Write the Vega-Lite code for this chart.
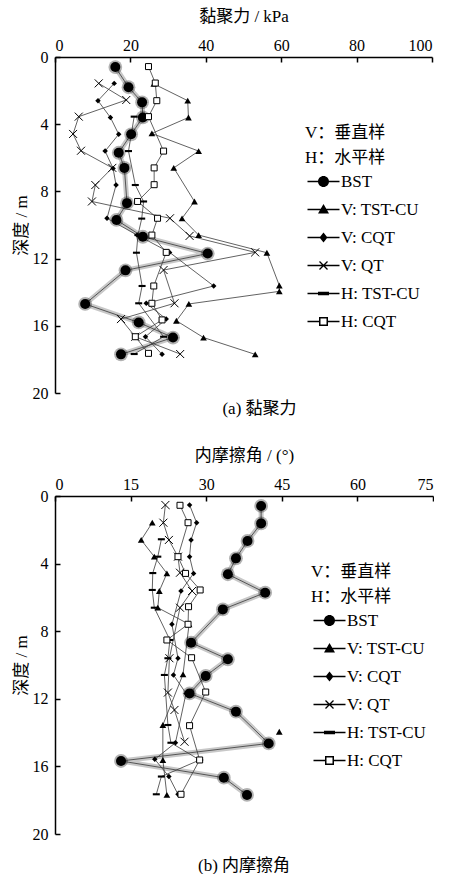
{
  "$schema": "https://vega.github.io/schema/vega-lite/v6.json",
  "padding": {"left": 12, "top": 7, "right": 0, "bottom": 0},
  "background": "white",
  "datasets": {
    "cohesion": [
      {"s": "BST", "d": 0.6, "v": 16.0}, {"s": "BST", "d": 1.8, "v": 19.5}, {"s": "BST", "d": 2.7, "v": 23.1}, {"s": "BST", "d": 3.6, "v": 23.3},
      {"s": "BST", "d": 4.6, "v": 20.2}, {"s": "BST", "d": 5.7, "v": 16.9}, {"s": "BST", "d": 6.6, "v": 18.4}, {"s": "BST", "d": 8.7, "v": 19.1},
      {"s": "BST", "d": 9.7, "v": 16.3}, {"s": "BST", "d": 10.7, "v": 23.3}, {"s": "BST", "d": 11.7, "v": 40.5}, {"s": "BST", "d": 12.7, "v": 18.7},
      {"s": "BST", "d": 14.7, "v": 8.0}, {"s": "BST", "d": 15.8, "v": 22.2}, {"s": "BST", "d": 16.7, "v": 31.3}, {"s": "BST", "d": 17.7, "v": 17.5},
      {"s": "V: TST-CU", "d": 1.6, "v": 26.2}, {"s": "V: TST-CU", "d": 2.6, "v": 35.2}, {"s": "V: TST-CU", "d": 3.6, "v": 35.4}, {"s": "V: TST-CU", "d": 4.55, "v": 25.7},
      {"s": "V: TST-CU", "d": 5.6, "v": 38.1}, {"s": "V: TST-CU", "d": 6.6, "v": 31.5}, {"s": "V: TST-CU", "d": 8.6, "v": 37.0}, {"s": "V: TST-CU", "d": 9.6, "v": 33.7},
      {"s": "V: TST-CU", "d": 10.6, "v": 38.1}, {"s": "V: TST-CU", "d": 11.65, "v": 56.2}, {"s": "V: TST-CU", "d": 13.6, "v": 59.5}, {"s": "V: TST-CU", "d": 13.95, "v": 59.5},
      {"s": "V: TST-CU", "d": 14.7, "v": 35.5}, {"s": "V: TST-CU", "d": 15.7, "v": 32.2}, {"s": "V: TST-CU", "d": 16.7, "v": 39.4}, {"s": "V: TST-CU", "d": 17.7, "v": 53.1},
      {"s": "V: CQT", "d": 1.57, "v": 15.7}, {"s": "V: CQT", "d": 2.6, "v": 11.4}, {"s": "V: CQT", "d": 3.6, "v": 14.7}, {"s": "V: CQT", "d": 4.6, "v": 16.9},
      {"s": "V: CQT", "d": 5.6, "v": 13.3}, {"s": "V: CQT", "d": 6.63, "v": 15.4}, {"s": "V: CQT", "d": 7.62, "v": 16.2}, {"s": "V: CQT", "d": 9.6, "v": 13.8},
      {"s": "V: CQT", "d": 10.6, "v": 21.8}, {"s": "V: CQT", "d": 11.63, "v": 30.4}, {"s": "V: CQT", "d": 13.63, "v": 42.1}, {"s": "V: CQT", "d": 14.66, "v": 24.2},
      {"s": "V: CQT", "d": 15.6, "v": 29.5}, {"s": "V: CQT", "d": 16.65, "v": 24.0}, {"s": "V: CQT", "d": 17.7, "v": 28.4},
      {"s": "V: QT", "d": 1.57, "v": 11.6}, {"s": "V: QT", "d": 2.56, "v": 18.9}, {"s": "V: QT", "d": 3.55, "v": 6.3}, {"s": "V: QT", "d": 4.58, "v": 4.8},
      {"s": "V: QT", "d": 5.58, "v": 6.9}, {"s": "V: QT", "d": 6.6, "v": 15.2}, {"s": "V: QT", "d": 7.62, "v": 10.7}, {"s": "V: QT", "d": 8.6, "v": 9.8},
      {"s": "V: QT", "d": 9.6, "v": 30.5}, {"s": "V: QT", "d": 10.65, "v": 35.7}, {"s": "V: QT", "d": 11.63, "v": 53.1}, {"s": "V: QT", "d": 12.68, "v": 28.8},
      {"s": "V: QT", "d": 14.66, "v": 31.7}, {"s": "V: QT", "d": 15.6, "v": 17.5}, {"s": "V: QT", "d": 16.65, "v": 21.3}, {"s": "V: QT", "d": 17.68, "v": 33.2},
      {"s": "H: TST-CU", "d": 3.55, "v": 21.0}, {"s": "H: TST-CU", "d": 5.6, "v": 19.5}, {"s": "H: TST-CU", "d": 7.62, "v": 21.3}, {"s": "H: TST-CU", "d": 8.6, "v": 23.5},
      {"s": "H: TST-CU", "d": 9.62, "v": 23.0}, {"s": "H: TST-CU", "d": 10.6, "v": 22.0}, {"s": "H: TST-CU", "d": 11.65, "v": 21.6}, {"s": "H: TST-CU", "d": 13.63, "v": 23.1},
      {"s": "H: TST-CU", "d": 14.66, "v": 22.2}, {"s": "H: TST-CU", "d": 16.65, "v": 28.8}, {"s": "H: TST-CU", "d": 17.68, "v": 21.0},
      {"s": "H: CQT", "d": 0.57, "v": 24.8}, {"s": "H: CQT", "d": 1.55, "v": 26.6}, {"s": "H: CQT", "d": 2.6, "v": 27.0}, {"s": "H: CQT", "d": 3.55, "v": 24.8},
      {"s": "H: CQT", "d": 5.6, "v": 28.8}, {"s": "H: CQT", "d": 6.6, "v": 26.3}, {"s": "H: CQT", "d": 7.6, "v": 26.3}, {"s": "H: CQT", "d": 8.6, "v": 21.9},
      {"s": "H: CQT", "d": 9.6, "v": 27.2}, {"s": "H: CQT", "d": 10.6, "v": 25.7}, {"s": "H: CQT", "d": 11.63, "v": 29.5}, {"s": "H: CQT", "d": 13.63, "v": 26.2},
      {"s": "H: CQT", "d": 14.66, "v": 25.7}, {"s": "H: CQT", "d": 15.65, "v": 28.4}, {"s": "H: CQT", "d": 16.65, "v": 21.3}, {"s": "H: CQT", "d": 17.64, "v": 24.8}
    ],
    "friction": [
      {"s": "BST", "d": 0.59, "v": 40.9}, {"s": "BST", "d": 1.62, "v": 40.9}, {"s": "BST", "d": 2.66, "v": 38.2}, {"s": "BST", "d": 3.69, "v": 35.9},
      {"s": "BST", "d": 4.63, "v": 34.3}, {"s": "BST", "d": 5.72, "v": 41.7}, {"s": "BST", "d": 6.71, "v": 33.3}, {"s": "BST", "d": 8.68, "v": 27.0},
      {"s": "BST", "d": 9.66, "v": 34.3}, {"s": "BST", "d": 10.65, "v": 29.9}, {"s": "BST", "d": 11.68, "v": 26.7}, {"s": "BST", "d": 12.76, "v": 35.9},
      {"s": "BST", "d": 14.64, "v": 42.4}, {"s": "BST", "d": 15.68, "v": 13.1}, {"s": "BST", "d": 16.67, "v": 33.5}, {"s": "BST", "d": 17.69, "v": 38.1},
      {"s": "V: TST-CU", "d": 1.58, "v": 19.3}, {"s": "V: TST-CU", "d": 2.6, "v": 17.1}, {"s": "V: TST-CU", "d": 3.59, "v": 19.7}, {"s": "V: TST-CU", "d": 4.58, "v": 22.2},
      {"s": "V: TST-CU", "d": 5.62, "v": 20.7}, {"s": "V: TST-CU", "d": 6.61, "v": 20.4}, {"s": "V: TST-CU", "d": 7.59, "v": 26.6}, {"s": "V: TST-CU", "d": 10.55, "v": 25.4},
      {"s": "V: TST-CU", "d": 13.55, "v": 21.4}, {"s": "V: TST-CU", "d": 13.95, "v": 44.5}, {"s": "V: TST-CU", "d": 15.62, "v": 21.4}, {"s": "V: TST-CU", "d": 17.69, "v": 22.2},
      {"s": "V: CQT", "d": 0.53, "v": 26.7}, {"s": "V: CQT", "d": 1.58, "v": 28.1}, {"s": "V: CQT", "d": 2.6, "v": 27.0}, {"s": "V: CQT", "d": 3.59, "v": 26.7},
      {"s": "V: CQT", "d": 4.58, "v": 27.5}, {"s": "V: CQT", "d": 5.62, "v": 25.0}, {"s": "V: CQT", "d": 7.59, "v": 23.2}, {"s": "V: CQT", "d": 9.6, "v": 24.4},
      {"s": "V: CQT", "d": 10.59, "v": 23.5}, {"s": "V: CQT", "d": 11.68, "v": 26.0}, {"s": "V: CQT", "d": 14.6, "v": 23.9}, {"s": "V: CQT", "d": 15.58, "v": 19.8},
      {"s": "V: CQT", "d": 16.6, "v": 22.6}, {"s": "V: CQT", "d": 17.65, "v": 24.4},
      {"s": "V: QT", "d": 0.53, "v": 21.9}, {"s": "V: QT", "d": 1.58, "v": 21.5}, {"s": "V: QT", "d": 2.6, "v": 22.6}, {"s": "V: QT", "d": 3.59, "v": 24.4},
      {"s": "V: QT", "d": 4.54, "v": 24.8}, {"s": "V: QT", "d": 5.62, "v": 27.2}, {"s": "V: QT", "d": 6.61, "v": 24.8}, {"s": "V: QT", "d": 9.6, "v": 22.7},
      {"s": "V: QT", "d": 11.63, "v": 22.4}, {"s": "V: QT", "d": 12.66, "v": 23.7}, {"s": "V: QT", "d": 14.54, "v": 25.7},
      {"s": "H: TST-CU", "d": 2.56, "v": 21.1}, {"s": "H: TST-CU", "d": 3.59, "v": 20.4}, {"s": "H: TST-CU", "d": 4.56, "v": 19.4}, {"s": "H: TST-CU", "d": 5.56, "v": 19.3},
      {"s": "H: TST-CU", "d": 6.61, "v": 19.7}, {"s": "H: TST-CU", "d": 8.52, "v": 22.8}, {"s": "H: TST-CU", "d": 9.6, "v": 22.4}, {"s": "H: TST-CU", "d": 10.59, "v": 21.7},
      {"s": "H: TST-CU", "d": 13.55, "v": 22.4}, {"s": "H: TST-CU", "d": 14.6, "v": 23.0}, {"s": "H: TST-CU", "d": 15.62, "v": 28.7}, {"s": "H: TST-CU", "d": 16.6, "v": 21.1},
      {"s": "H: TST-CU", "d": 17.65, "v": 20.1},
      {"s": "H: CQT", "d": 0.55, "v": 24.8}, {"s": "H: CQT", "d": 1.58, "v": 26.4}, {"s": "H: CQT", "d": 3.59, "v": 24.4}, {"s": "H: CQT", "d": 4.58, "v": 25.9},
      {"s": "H: CQT", "d": 5.56, "v": 28.8}, {"s": "H: CQT", "d": 6.55, "v": 26.5}, {"s": "H: CQT", "d": 7.59, "v": 26.4}, {"s": "H: CQT", "d": 8.52, "v": 22.2},
      {"s": "H: CQT", "d": 9.57, "v": 27.1}, {"s": "H: CQT", "d": 11.6, "v": 29.9}, {"s": "H: CQT", "d": 13.59, "v": 26.7}, {"s": "H: CQT", "d": 15.62, "v": 28.7},
      {"s": "H: CQT", "d": 17.65, "v": 25.0}
    ]
  },
  "vconcat": [
    {
      "width": 377,
      "height": 336,
      "data": {"name": "cohesion"},
      "title": {"text": "(a) 黏聚力", "orient": "bottom", "anchor": "middle", "dx": 16, "offset": 0},
      "encoding": {
        "x": {"field": "v", "type": "quantitative", "scale": {"domain": [0, 100], "nice": false},
              "axis": {"orient": "top", "title": "黏聚力 / kPa", "values": [0, 20, 40, 60, 80, 100]}},
        "y": {"field": "d", "type": "quantitative", "scale": {"domain": [0, 20], "reverse": true, "nice": false},
              "axis": {"title": "深度 / m", "values": [0, 4, 8, 12, 16, 20]}},
        "order": {"field": "d", "type": "quantitative"}
      },
      "layer": [
        {"transform": [{"filter": "datum.s == 'BST'"}], "mark": {"type": "line", "color": "#c8c8c8", "strokeWidth": 5}},
        {"transform": [{"filter": "datum.s == 'BST'"}], "mark": {"type": "line", "color": "#555555", "strokeWidth": 1}},
        {"transform": [{"filter": "datum.s != 'BST'"}], "mark": {"type": "line", "color": "#3a3a3a", "strokeWidth": 0.8},
         "encoding": {"detail": {"field": "s", "type": "nominal"}}},
        {"transform": [{"filter": "datum.s == 'BST'"}], "mark": {"type": "circle", "color": "black", "size": 190, "opacity": 0.3}},
        {"transform": [{"filter": "datum.s == 'BST'"}], "mark": {"type": "point", "shape": "circle", "filled": true, "color": "black", "size": 100, "opacity": 1}},
        {"transform": [{"filter": "datum.s == 'V: TST-CU'"}], "mark": {"type": "point", "shape": "triangle-up", "filled": true, "color": "black", "size": 45, "opacity": 1}},
        {"transform": [{"filter": "datum.s == 'V: CQT'"}], "mark": {"type": "point", "shape": "diamond", "filled": true, "color": "black", "size": 30, "opacity": 1}},
        {"transform": [{"filter": "datum.s == 'V: QT'"}], "mark": {"type": "point", "shape": "M-1,-1L1,1M-1,1L1,-1", "filled": false, "color": "black", "strokeWidth": 1, "size": 64, "opacity": 1}},
        {"transform": [{"filter": "datum.s == 'H: TST-CU'"}], "mark": {"type": "point", "shape": "M-1,-0.3H1V0.3H-1Z", "filled": true, "color": "black", "size": 49, "opacity": 1}},
        {"transform": [{"filter": "datum.s == 'H: CQT'"}], "mark": {"type": "point", "shape": "square", "filled": true, "fill": "white", "stroke": "black", "strokeWidth": 1, "size": 36, "opacity": 1}},
        {"mark": {"type": "point", "filled": true, "fill": "black", "opacity": 0, "size": 64},
         "encoding": {
           "shape": {"field": "s", "type": "nominal",
             "scale": {"domain": ["BST", "V: TST-CU", "V: CQT", "V: QT", "H: TST-CU", "H: CQT"],
                       "range": [
                         "M-3.2,-0.14H3.2V0.14H-3.2ZM-1.1,0A1.1,1.1,0,1,1,1.1,0A1.1,1.1,0,1,1,-1.1,0Z",
                         "M-3.2,-0.14H3.2V0.14H-3.2ZM0,-1.1L1.1,0.8L-1.1,0.8Z",
                         "M-3.2,-0.14H3.2V0.14H-3.2ZM0,-1L0.8,0L0,1L-0.8,0Z",
                         "M-3.2,-0.14H3.2V0.14H-3.2ZM-0.708,-0.892L0.892,0.708L0.708,0.892L-0.892,-0.708ZM-0.708,0.892L-0.892,0.708L0.708,-0.892L0.892,-0.708Z",
                         "M-3.2,-0.14H3.2V0.14H-3.2ZM-1.1,-0.35H1.1V0.35H-1.1Z",
                         "M-3.2,-0.14H-0.9V0.14H-3.2ZM0.9,-0.14H3.2V0.14H0.9ZM-0.9,-0.9V0.9H0.9V-0.9ZM-0.6,-0.6H0.6V0.6H-0.6Z"]},
             "legend": {"orient": "none", "legendX": 250, "legendY": 68, "title": ["V：垂直样", "H：水平样"]}}
         }}
      ]
    },
    {
      "width": 378,
      "height": 338,
      "data": {"name": "friction"},
      "title": {"text": "(b) 内摩擦角", "orient": "bottom", "anchor": "middle", "offset": 16},
      "encoding": {
        "x": {"field": "v", "type": "quantitative", "scale": {"domain": [0, 75], "nice": false},
              "axis": {"orient": "top", "title": "内摩擦角 / (°)", "values": [0, 15, 30, 45, 60, 75]}},
        "y": {"field": "d", "type": "quantitative", "scale": {"domain": [0, 20], "reverse": true, "nice": false},
              "axis": {"title": "深度 / m", "values": [0, 4, 8, 12, 16, 20]}},
        "order": {"field": "d", "type": "quantitative"}
      },
      "layer": [
        {"transform": [{"filter": "datum.s == 'BST'"}], "mark": {"type": "line", "color": "#c8c8c8", "strokeWidth": 5}},
        {"transform": [{"filter": "datum.s == 'BST'"}], "mark": {"type": "line", "color": "#555555", "strokeWidth": 1}},
        {"transform": [{"filter": "datum.s != 'BST' && !(datum.s == 'V: TST-CU' && datum.v > 40)"}], "mark": {"type": "line", "color": "#3a3a3a", "strokeWidth": 0.8},
         "encoding": {"detail": {"field": "s", "type": "nominal"}}},
        {"transform": [{"filter": "datum.s == 'BST'"}], "mark": {"type": "circle", "color": "black", "size": 190, "opacity": 0.3}},
        {"transform": [{"filter": "datum.s == 'BST'"}], "mark": {"type": "point", "shape": "circle", "filled": true, "color": "black", "size": 100, "opacity": 1}},
        {"transform": [{"filter": "datum.s == 'V: TST-CU'"}], "mark": {"type": "point", "shape": "triangle-up", "filled": true, "color": "black", "size": 45, "opacity": 1}},
        {"transform": [{"filter": "datum.s == 'V: CQT'"}], "mark": {"type": "point", "shape": "diamond", "filled": true, "color": "black", "size": 30, "opacity": 1}},
        {"transform": [{"filter": "datum.s == 'V: QT'"}], "mark": {"type": "point", "shape": "M-1,-1L1,1M-1,1L1,-1", "filled": false, "color": "black", "strokeWidth": 1, "size": 64, "opacity": 1}},
        {"transform": [{"filter": "datum.s == 'H: TST-CU'"}], "mark": {"type": "point", "shape": "M-1,-0.3H1V0.3H-1Z", "filled": true, "color": "black", "size": 49, "opacity": 1}},
        {"transform": [{"filter": "datum.s == 'H: CQT'"}], "mark": {"type": "point", "shape": "square", "filled": true, "fill": "white", "stroke": "black", "strokeWidth": 1, "size": 36, "opacity": 1}},
        {"mark": {"type": "point", "filled": true, "fill": "black", "opacity": 0, "size": 64},
         "encoding": {
           "shape": {"field": "s", "type": "nominal",
             "scale": {"domain": ["BST", "V: TST-CU", "V: CQT", "V: QT", "H: TST-CU", "H: CQT"],
                       "range": [
                         "M-3.2,-0.14H3.2V0.14H-3.2ZM-1.1,0A1.1,1.1,0,1,1,1.1,0A1.1,1.1,0,1,1,-1.1,0Z",
                         "M-3.2,-0.14H3.2V0.14H-3.2ZM0,-1.1L1.1,0.8L-1.1,0.8Z",
                         "M-3.2,-0.14H3.2V0.14H-3.2ZM0,-1L0.8,0L0,1L-0.8,0Z",
                         "M-3.2,-0.14H3.2V0.14H-3.2ZM-0.708,-0.892L0.892,0.708L0.708,0.892L-0.892,-0.708ZM-0.708,0.892L-0.892,0.708L0.708,-0.892L0.892,-0.708Z",
                         "M-3.2,-0.14H3.2V0.14H-3.2ZM-1.1,-0.35H1.1V0.35H-1.1Z",
                         "M-3.2,-0.14H-0.9V0.14H-3.2ZM0.9,-0.14H3.2V0.14H0.9ZM-0.9,-0.9V0.9H0.9V-0.9ZM-0.6,-0.6H0.6V0.6H-0.6Z"]},
             "legend": {"orient": "none", "legendX": 256, "legendY": 68, "title": ["V：垂直样", "H：水平样"]}}
         }}
      ]
    }
  ],
  "spacing": 29,
  "resolve": {"scale": {"shape": "independent"}, "legend": {"shape": "independent"}},
  "config": {
    "font": "Liberation Serif, Noto Sans CJK SC",
    "view": {"stroke": null},
    "axis": {
      "grid": false, "domainColor": "black", "domainWidth": 1.5, "tickColor": "black", "tickWidth": 1.5, "tickSize": -5,
      "labelFont": "Liberation Serif, Noto Sans CJK SC", "labelFontSize": 16, "labelColor": "black", "labelPadding": 9,
      "titleFont": "Liberation Serif, Noto Sans CJK SC", "titleFontSize": 17, "titleFontWeight": "normal", "titleColor": "black", "titlePadding": 12
    },
    "axisY": {"labelPadding": 12, "titlePadding": 2},
    "legend": {
      "titleFont": "Liberation Serif, Noto Sans CJK SC", "titleFontSize": 17, "titleFontWeight": "normal", "titleColor": "black", "titleLineHeight": 25, "titlePadding": 6,
      "labelFont": "Liberation Serif, Noto Sans CJK SC", "labelFontSize": 17, "labelColor": "black", "rowPadding": 10,
      "symbolOpacity": 1, "symbolFillColor": "black", "symbolOffset": 10, "labelOffset": 9
    },
    "title": {"font": "Liberation Serif, Noto Sans CJK SC", "fontSize": 17, "fontWeight": "normal", "color": "black"}
  }
}
